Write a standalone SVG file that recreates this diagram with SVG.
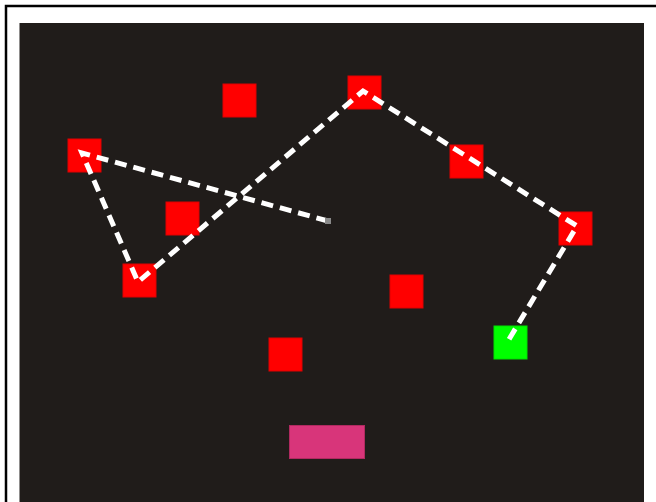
<svg xmlns="http://www.w3.org/2000/svg" width="656" height="502" viewBox="0 0 656 502">
<style>
.r{fill:#ff0000;stroke:#e00000;stroke-width:1}
.c{fill:none;stroke:#ffffff;stroke-width:5;stroke-dasharray:12 7}
</style>
<rect x="0" y="0" width="656" height="502" fill="#ffffff"/>
<rect x="6" y="6" width="660" height="510" fill="none" stroke="#000" stroke-width="2.5"/>
<rect x="19.5" y="23" width="624.5" height="480" fill="#201c1a"/>
<g id="n1"><rect class="r" x="68" y="139" width="33" height="33"/></g>
<g id="n2"><rect class="r" x="123" y="264" width="33" height="33"/></g>
<g id="n3"><rect class="r" x="166" y="202" width="33" height="33"/></g>
<g id="n4"><rect class="r" x="223" y="84" width="33" height="33"/></g>
<g id="n5"><rect class="r" x="348" y="76" width="33" height="33"/></g>
<g id="n6"><rect class="r" x="450" y="145" width="33" height="33"/></g>
<g id="n7"><rect class="r" x="559" y="212" width="33" height="33"/></g>
<g id="n8"><rect class="r" x="390" y="275" width="33" height="33"/></g>
<g id="n9"><rect class="r" x="269" y="338" width="33" height="33"/></g>
<g id="n10"><rect x="494" y="326" width="33" height="33" fill="#00ff00" stroke="#00e000" stroke-width="1"/></g>
<g id="n11"><rect x="289.5" y="425.5" width="75" height="33" fill="#d8357a" stroke="#b02a60" stroke-width="1"/></g>
<g id="connectors">
<polyline class="c" points="328,221 82,153 138,282 363,91 577,226 508,341"/>
<rect x="325" y="218" width="6" height="6" fill="#8a8a8a"/>
</g>
</svg>
